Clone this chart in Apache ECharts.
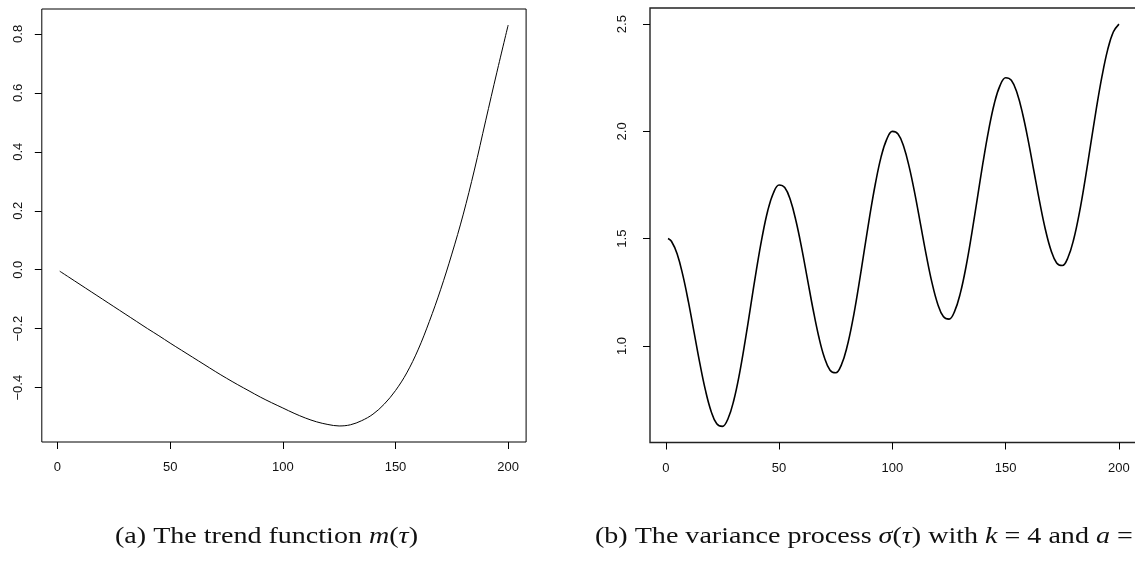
<!DOCTYPE html>
<html>
<head>
<meta charset="utf-8">
<script src="https://cdn.jsdelivr.net/npm/echarts@6/dist/echarts.min.js"></script>
<style>
html,body{margin:0;padding:0;background:#fff;}
#chart{width:1135px;height:572px;}
</style>
</head>
<body>
<div id="chart"></div>
<script>
// ---- Panel (a): trend function m(tau) ----
const tauA = [1,5,10,15,20,25,30,35,40,45,50,55,60,65,70,75,80,85,90,95,100,105,110,115,120,125,130,135,140,145,150,155,160,165,170,175,180,185,190,195,200];
const trendM = [-0.005,-0.025,-0.050,-0.075,-0.100,-0.125,-0.150,-0.175,-0.200,-0.224,-0.249,-0.273,-0.297,-0.321,-0.345,-0.368,-0.390,-0.411,-0.432,-0.451,-0.469,-0.487,-0.503,-0.516,-0.525,-0.530,-0.526,-0.512,-0.490,-0.456,-0.410,-0.350,-0.272,-0.176,-0.068,0.053,0.186,0.338,0.505,0.670,0.830];
const ticksAx = [0,50,100,150,200];
const ticksAy = [-0.4,-0.2,0.0,0.2,0.4,0.6,0.8];

// ---- Panel (b): variance process sigma(tau) ----
const tauB = [1,2.5,5,7.5,10,12.5,15,17.5,20,22.5,25,27.5,30,32.5,35,37.5,40,42.5,45,47.5,50,52.5,55,57.5,60,62.5,65,67.5,70,72.5,75,77.5,80,82.5,85,87.5,90,92.5,95,97.5,100,102.5,105,107.5,110,112.5,115,117.5,120,122.5,125,127.5,130,132.5,135,137.5,140,142.5,145,147.5,150,152.5,155,157.5,160,162.5,165,167.5,170,172.5,175,177.5,180,182.5,185,187.5,190,192.5,195,197.5,200];
const sigma = [1.501,
 1.488,1.430,1.331,1.205,1.063,0.921,0.794,0.696,0.637,0.625,0.662,0.746,0.869,1.021,1.188,1.355,1.506,1.630,1.713,1.750,
 1.738,1.680,1.581,1.455,1.313,1.171,1.044,0.946,0.887,0.875,0.912,0.996,1.119,1.271,1.438,1.605,1.756,1.880,1.963,2.000,
 1.988,1.930,1.831,1.705,1.563,1.421,1.294,1.196,1.137,1.125,1.162,1.246,1.369,1.521,1.688,1.855,2.006,2.130,2.213,2.250,
 2.238,2.180,2.081,1.955,1.813,1.671,1.544,1.446,1.387,1.375,1.412,1.496,1.619,1.771,1.938,2.105,2.256,2.380,2.463,2.500];
const ticksBx = [0,50,100,150,200];
const ticksBy = [1.0,1.5,2.0,2.5];

const captionA = '(a) The trend function {i|m}({i|τ})';
const captionB = '(b) The variance process {i|σ}({i|τ}) with {i|k} = 4 and {i|a} =';

function pad(lo, hi){ const r = (hi - lo) * 0.04; return [lo - r, hi + r]; }
const xr = pad(1, 200);
const yrA = pad(Math.min(...trendM), Math.max(...trendM));
const yrB = pad(Math.min(...sigma), Math.max(...sigma));

const fmt1 = v => v.toFixed(1).replace('-', '\u2212');
const labelFont = {fontFamily:'Liberation Sans, Arial, sans-serif', fontSize:13, color:'#111'};

function xAxisCfg(gi, ticks){
  return {
    gridIndex: gi, type:'value', min: xr[0], max: xr[1],
    axisLine:{show:false, onZero:false},
    splitLine:{show:false},
    axisTick:{show:true, inside:false, length:7, customValues: ticks, lineStyle:{color:'#000', width:1}},
    axisLabel:Object.assign({customValues: ticks, margin:19, formatter: v => String(Math.round(v))}, labelFont)
  };
}
function yAxisCfg(gi, r, ticks, margin){
  return {
    gridIndex: gi, type:'value', min: r[0], max: r[1],
    axisLine:{show:false, onZero:false},
    splitLine:{show:false},
    axisTick:{show:true, inside:false, length:7, customValues: ticks, lineStyle:{color:'#000', width:1}},
    axisLabel:Object.assign({customValues: ticks, rotate:90, margin: margin, formatter: fmt1}, labelFont)
  };
}

const capFont = 'Liberation Serif, Times New Roman, serif';
function caption(text, x){
  return {
    type:'text', x: x, y: 525, scaleX: 1.22, scaleY: 1, silent:true,
    style:{
      text: text, fontFamily: capFont, fontSize: 23, fill:'#111',
      textVerticalAlign:'top', verticalAlign:'top',
      rich:{ i:{fontFamily: capFont, fontSize: 23, fontStyle:'italic', fill:'#111'} }
    }
  };
}

const chart = echarts.init(document.getElementById('chart'), null, {renderer:'canvas'});
chart.setOption({
  backgroundColor:'#fff',
  animation:false,
  graphic:[caption(captionA, 115), caption(captionB, 595)],
  grid:[
    {left:41.8, top:9, width:484.3, height:433, show:true, borderColor:'#000', borderWidth:1, backgroundColor:'transparent', outerBoundsMode:'none', containLabel:false},
    {left:650, top:8, width:487, height:434.5, show:true, borderColor:'#222', borderWidth:1.4, backgroundColor:'transparent', outerBoundsMode:'none', containLabel:false}
  ],
  xAxis:[xAxisCfg(0, ticksAx), xAxisCfg(1, ticksBx)],
  yAxis:[yAxisCfg(0, yrA, ticksAy, 17), yAxisCfg(1, yrB, ticksBy, 21)],
  series:[
    {type:'line', xAxisIndex:0, yAxisIndex:0, data: tauA.map((t,i)=>[t, trendM[i]]),
     showSymbol:false, smooth:0.35, lineStyle:{color:'#000', width:1}},
    {type:'line', xAxisIndex:1, yAxisIndex:1, data: tauB.map((t,i)=>[t, sigma[i]]),
     showSymbol:false, smooth:0.4, lineStyle:{color:'#000', width:1.6}}
  ]
});
</script>
</body>
</html>
